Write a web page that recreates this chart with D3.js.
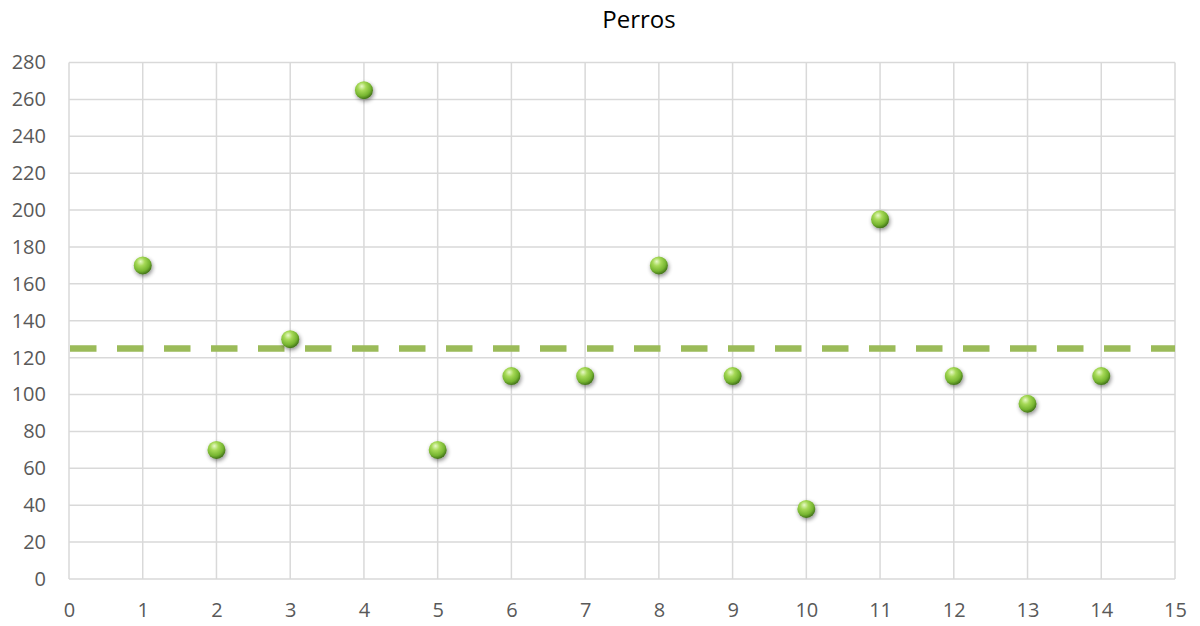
<!DOCTYPE html>
<html><head><meta charset="utf-8">
<script src="https://cdn.jsdelivr.net/npm/d3@7"></script>
<style>body{margin:0;background:#fff}svg{display:block}</style>
</head><body>
<svg id="c" width="1200" height="626"></svg>
<script>
const title = "Perros";
const xValues = [1,2,3,4,5,6,7,8,9,10,11,12,13,14];
const yValues = [170,70,130,265,70,110,110,170,110,38,195,110,95,110];
const avgValue = 125;
const xTicks = d3.range(0,16,1);
const yTicks = d3.range(0,281,20);

const svg = d3.select("#c");
const m = {l:69, r:1175, t:62.5, b:579};
const x = d3.scaleLinear().domain([0,15]).range([m.l,m.r]);
const y = d3.scaleLinear().domain([0,280]).range([m.b,m.t]);

const defs = svg.append("defs");
const g = defs.append("radialGradient").attr("id","ball").attr("cx","40%").attr("cy","35%").attr("r","65%").attr("fx","38%").attr("fy","28%");
g.append("stop").attr("offset","0%").attr("stop-color","#e8f9c8");
g.append("stop").attr("offset","35%").attr("stop-color","#a6d957");
g.append("stop").attr("offset","75%").attr("stop-color","#76b530");
g.append("stop").attr("offset","100%").attr("stop-color","#44751a");
const f = defs.append("filter").attr("id","sh").attr("x","-50%").attr("y","-50%").attr("width","200%").attr("height","200%");
f.append("feGaussianBlur").attr("in","SourceAlpha").attr("stdDeviation","2");
f.append("feOffset").attr("dx","1").attr("dy","2").attr("result","o");
f.append("feComponentTransfer").append("feFuncA").attr("type","linear").attr("slope","0.45");
const mg = f.append("feMerge"); mg.append("feMergeNode"); mg.append("feMergeNode").attr("in","SourceGraphic");

// grid
svg.append("g").selectAll("line").data(yTicks).join("line")
  .attr("x1",m.l).attr("x2",m.r).attr("y1",d=>y(d)).attr("y2",d=>y(d))
  .attr("stroke","#d9d9d9").attr("stroke-width",1.5);
svg.append("g").selectAll("line").data(xTicks).join("line")
  .attr("y1",m.t).attr("y2",m.b).attr("x1",d=>x(d)).attr("x2",d=>x(d))
  .attr("stroke","#d9d9d9").attr("stroke-width",1.5);

// axes labels
const font = "'Open Sans', 'Noto Sans', sans-serif";
const yAxis = d3.axisLeft(y).tickValues(yTicks).tickSize(0).tickPadding(23);
const ya = svg.append("g").attr("transform",`translate(${m.l},0)`).call(yAxis);
ya.select(".domain").remove();
ya.selectAll("text").attr("font-family",font).attr("font-size",20).attr("fill","#595959");
const xAxis = d3.axisBottom(x).tickValues(xTicks).tickSize(0).tickPadding(24);
const xa = svg.append("g").attr("transform",`translate(0,${m.b})`).call(xAxis);
xa.select(".domain").remove();
xa.selectAll("text").attr("font-family",font).attr("font-size",20).attr("fill","#595959");

// average dashed line
svg.append("line").attr("x1",x(0)+1).attr("x2",x(15)).attr("y1",y(avgValue)).attr("y2",y(avgValue))
  .attr("stroke","#9bbb59").attr("stroke-width",6.5).attr("stroke-dasharray","26.5,20.5");

// points
svg.append("g").selectAll("circle").data(xValues.map((d,i)=>[d,yValues[i]])).join("circle")
  .attr("cx",d=>x(d[0])).attr("cy",d=>y(d[1])).attr("r",9)
  .attr("fill","url(#ball)").attr("filter","url(#sh)");

svg.append("text").attr("x",639).attr("y",28).attr("text-anchor","middle")
  .attr("font-family",font).attr("font-size",24).attr("fill","#000").text(title);
</script>
</body></html>
